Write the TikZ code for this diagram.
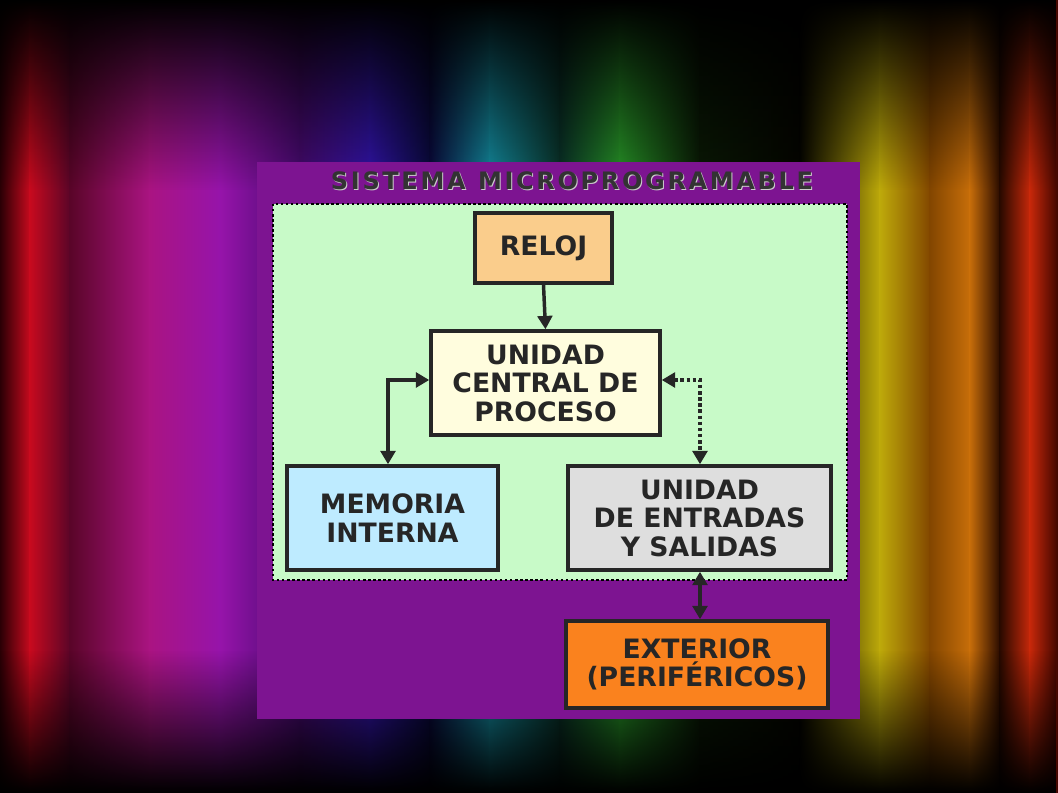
\documentclass[tikz,border=0pt]{standalone}
\usepackage{fontspec}
\setmainfont{DejaVu Sans}
\usetikzlibrary{arrows.meta,fadings}
\definecolor{cA}{RGB}{200,250,200}
\definecolor{cPan}{RGB}{125,20,145}
\definecolor{cRel}{RGB}{250,205,140}
\definecolor{cUcp}{RGB}{255,253,222}
\definecolor{cMem}{RGB}{190,235,255}
\definecolor{cEs}{RGB}{222,222,222}
\definecolor{cExt}{RGB}{250,130,30}
\definecolor{s0}{RGB}{40,0,5}
\definecolor{s1}{RGB}{200,10,30}
\definecolor{s2}{RGB}{90,5,40}
\definecolor{s3}{RGB}{170,20,130}
\definecolor{s4}{RGB}{150,20,170}
\definecolor{s5}{RGB}{70,10,110}
\definecolor{s6}{RGB}{50,20,170}
\definecolor{s7}{RGB}{10,10,60}
\definecolor{s8}{RGB}{20,140,160}
\definecolor{s9}{RGB}{10,50,40}
\definecolor{s10}{RGB}{40,150,40}
\definecolor{s11}{RGB}{10,25,5}
\definecolor{s12}{RGB}{5,5,0}
\definecolor{s13}{RGB}{190,170,10}
\definecolor{s14}{RGB}{130,70,0}
\definecolor{s15}{RGB}{200,110,10}
\definecolor{s16}{RGB}{40,10,0}
\definecolor{s17}{RGB}{200,40,10}
\definecolor{s18}{RGB}{60,5,0}
\tikzset{
  box/.style={draw=black!85,line width=2.6pt,fill=#1,align=center,font=\bfseries\fontsize{20}{21.4}\selectfont,text=black!85,inner sep=0pt},
  conn/.style={line width=2.6pt,draw=black!85,-{Triangle[length=10pt,width=11pt]}},
  dconn/.style={line width=2.6pt,draw=black!85,{Triangle[length=10pt,width=11pt]}-{Triangle[length=10pt,width=11pt]}},
  ttl/.style={font=\bfseries\fontsize{18}{20}\selectfont}
}
\newcommand{\ttltext}{S\kern2pt I\kern2pt S\kern2pt T\kern2pt E\kern2pt M\kern2pt A\ \,M\kern2pt I\kern2pt C\kern2pt R\kern2pt O\kern2pt P\kern2pt R\kern2pt O\kern2pt G\kern2pt R\kern2pt A\kern2pt M\kern2pt A\kern2pt B\kern2pt L\kern2pt E}
\begin{document}
\begin{tikzpicture}[x=0.75pt,y=-0.75pt]
\useasboundingbox (0,0) rectangle (1058,793);
\foreach \a/\b/\ca/\cb in {0/30/s0/s1,30/70/s1/s2,70/150/s2/s3,150/220/s3/s4,220/300/s4/s5,300/370/s5/s6,370/430/s6/s7,430/490/s7/s8,490/560/s8/s9,560/620/s9/s10,620/700/s10/s11,700/800/s11/s12,800/880/s12/s13,880/930/s13/s14,930/970/s14/s15,970/1000/s15/s16,1000/1030/s16/s17,1030/1058/s17/s18}
  \shade[left color=\ca,right color=\cb] (\a-0.5,0) rectangle (\b+0.5,793);
\fill[black,path fading=south] (0,0) rectangle (1058,190);
\fill[black,path fading=north] (0,650) rectangle (1058,793);
\fill[cPan] (257,162) rectangle (860,719);
\node[ttl,text=white!80!black] at (573,182) {\ttltext};
\node[ttl,text=black!80] (title) at (572,181) {\ttltext};
\draw[fill=cA,draw=black,line width=1.8pt,dotted] (273,204) rectangle (847,580);
\node[box=cRel,minimum width=102.75pt,minimum height=52.5pt] (reloj) at (543.5,248) {RELOJ};
\node[box=cUcp,minimum width=171.75pt,minimum height=78pt] (ucp) at (545.5,383) {UNIDAD\\CENTRAL DE\\PROCESO};
\node[box=cMem,minimum width=158.25pt,minimum height=78pt] (mem) at (392.5,518) {MEMORIA\\INTERNA};
\node[box=cEs,minimum width=197.25pt,minimum height=78pt] (es) at (699.5,518) {UNIDAD\\DE ENTRADAS\\Y SALIDAS};
\node[box=cExt,minimum width=196.5pt,minimum height=65.25pt] (ext) at (697,664.5) {EXTERIOR\\(PERIFÉRICOS)};
\draw[conn] (reloj.south) -- (ucp.north);
\draw[dconn] (ucp.west|-0,380) -| (mem.north-|388,0);
\draw[dconn,dotted] (ucp.east|-0,380) -| (es.north-|700,0);
\draw[dconn] (es.south-|700,0) -- (ext.north-|700,0);
\end{tikzpicture}
\end{document}
